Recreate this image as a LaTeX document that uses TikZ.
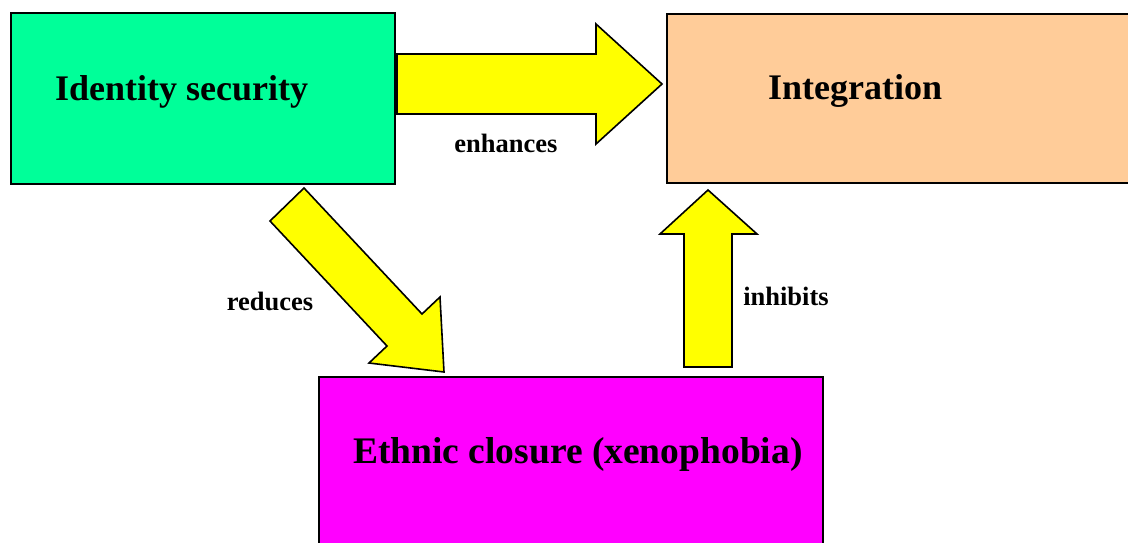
\documentclass[tikz,border=0pt]{standalone}
\usepackage{fontspec}
\setmainfont{Liberation Serif}
\begin{document}
\begin{tikzpicture}[x=1pt,y=-1pt,
  concept/.style={draw=black,line width=1.6pt,anchor=north west,inner sep=0pt},
  blockarrow/.style={draw=black,fill=arrowyellow,line width=1.6pt,line join=miter},
  title/.style={font=\fontsize{36}{40}\selectfont\bfseries,anchor=base west,inner sep=0pt},
  verb/.style={font=\fontsize{26.5}{30}\selectfont\bfseries,anchor=base,inner sep=0pt}]
\definecolor{identgreen}{HTML}{00FF99}
\definecolor{integpeach}{HTML}{FFCC99}
\definecolor{closuremag}{HTML}{FF00FF}
\definecolor{arrowyellow}{HTML}{FFFF00}
\useasboundingbox (0,0) rectangle (1128,542);
\begin{scope}
\clip (0,0) rectangle (1128,542);
% concept boxes
\node[concept,fill=identgreen,minimum width=384pt,minimum height=171pt] (ident) at (10,12) {};
\node[concept,fill=integpeach,minimum width=470pt,minimum height=169pt] (integ) at (666,13) {};
\node[concept,fill=closuremag,minimum width=504pt,minimum height=180pt] (closure) at (318,376) {};
% block arrows
\draw[blockarrow] (397,54) -- (596,54) -- (596,24) -- (662,84) -- (596,144) -- (596,114) -- (397,114) -- cycle;
\draw[blockarrow] (304,188) -- (270,221) -- (387,346) -- (369,363) -- (444,372) -- (440,297) -- (422,314) -- cycle;
\draw[blockarrow] (708,190) -- (757,234) -- (732,234) -- (732,367) -- (684,367) -- (684,234) -- (660,234) -- cycle;
\end{scope}
% box titles
\node[title] (identtext) at (55,100) {Identity security};
\node[title] (integtext) at (768,99) {Integration};
\node[title,font=\fontsize{37.5}{42}\selectfont\bfseries] (closuretext) at (353,463) {Ethnic closure (xenophobia)};
% arrow labels
\node[verb] (enh) at (506,152) {enhances};
\node[verb] (red) at (270,310) {reduces};
\node[verb] (inh) at (786,305) {inhibits};
\end{tikzpicture}
\end{document}
